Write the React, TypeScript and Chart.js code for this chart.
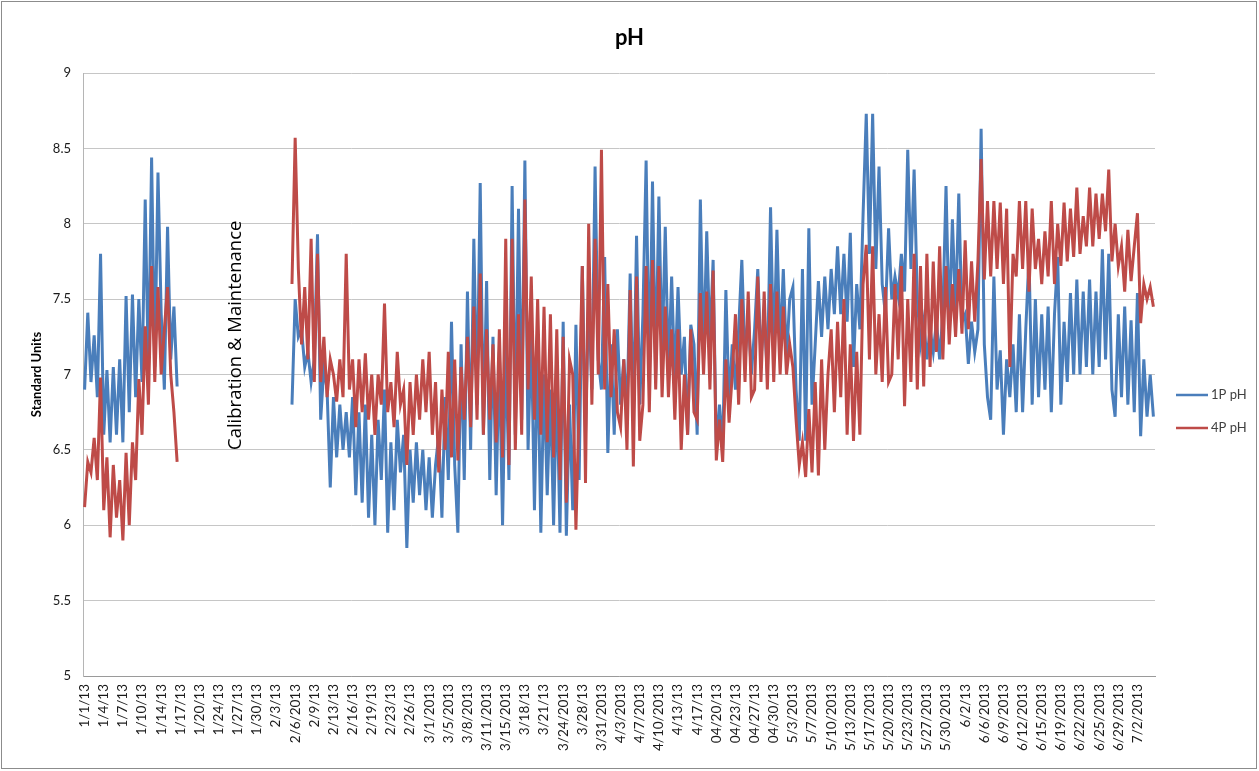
import React, { useEffect, useRef } from "react";
import { Chart, registerables } from "chart.js";

Chart.register(...registerables);

// Tick labels shown on the category axis (one every POINTS_PER_TICK readings)
const tickLabels: string[] = [
  "1/1/13", "1/4/13", "1/7/13", "1/10/13", "1/14/13", "1/17/13", "1/20/13", "1/24/13",
  "1/27/13", "1/30/13", "2/3/13", "2/6/2013", "2/9/13", "2/13/13", "2/16/13", "2/19/13",
  "2/23/13", "2/26/13", "3/1/2013", "3/5/2013", "3/8/2013", "3/11/2013", "3/15/2013", "3/18/13",
  "3/21/13", "3/24/2013", "3/28/13", "3/31/2013", "4/3/2013", "4/7/2013", "4/10/2013", "4/13/13",
  "4/17/13", "04/20/13", "04/23/13", "04/27/13", "04/30/13", "5/3/2013", "5/7/2013", "5/10/2013",
  "5/13/2013", "5/17/2013", "5/20/2013", "5/23/2013", "5/27/2013", "5/30/2013", "6/2/13", "6/6/2013",
  "6/9/2013", "6/12/2013", "6/15/2013", "6/19/2013", "6/22/2013", "6/25/2013", "6/29/2013", "7/2/2013",
];

const POINTS_PER_TICK = 6;

// 1P pH readings (one row per tick interval)
const ph1P: (number | null)[] = [
  6.9, 7.41, 6.95, 7.26, 6.85, 7.8,
  6.6, 7.03, 6.55, 7.05, 6.6, 7.1,
  6.55, 7.52, 6.75, 7.53, 6.85, 7.5,
  6.95, 8.16, 7.0, 8.44, 7.05, 8.34,
  7.41, 6.9, 7.98, 7.1, 7.45, 6.92,
  null, null, null, null, null, null,
  null, null, null, null, null, null,
  null, null, null, null, null, null,
  null, null, null, null, null, null,
  null, null, null, null, null, null,
  null, null, null, null, null, 6.8,
  7.5, 7.25, 7.3, 7.05, 7.15, 6.95,
  7.1, 7.93, 6.7, 7.05, 6.9, 6.25,
  6.85, 6.45, 6.8, 6.5, 6.75, 6.45,
  6.85, 6.2, 6.75, 6.15, 6.8, 6.05,
  6.6, 6.0, 6.7, 6.3, 6.9, 5.95,
  6.55, 6.1, 6.7, 6.35, 6.6, 5.85,
  6.5, 6.15, 6.55, 6.2, 6.5, 6.1,
  6.45, 6.05, 6.4, 6.6, 6.05, 6.85,
  6.3, 7.35, 6.4, 5.95, 7.2, 6.3,
  7.55, 6.5, 7.9, 6.8, 8.27, 6.6,
  7.62, 6.3, 7.25, 6.2, 7.15, 6.0,
  7.2, 6.3, 8.25, 6.6, 8.1, 6.7,
  8.42, 6.5, 7.3, 6.1, 7.2, 5.95,
  7.0, 6.2, 6.9, 6.0, 6.95, 5.95,
  7.35, 5.93, 6.8, 6.1, 7.33, 6.3,
  7.72, 6.6, 7.5, 6.9, 8.38, 7.1,
  6.9, 7.78, 6.48, 7.2, 6.6, 7.3,
  6.8, 7.1, 6.75, 7.67, 6.7, 7.92,
  6.8, 7.4, 8.42, 6.95, 8.28, 7.0,
  8.18, 7.1, 7.98, 7.0, 7.65, 6.95,
  7.58, 7.0, 7.25, 6.6, 7.33, 7.2,
  6.6, 8.16, 7.1, 7.95, 7.2, 7.76,
  6.5, 6.8, 6.5, 7.56, 6.8, 7.2,
  6.9, 7.3, 7.76, 7.1, 7.4, 7.0,
  7.3, 7.7, 7.1, 7.4, 7.0, 8.11,
  7.1, 7.96, 7.15, 7.7, 7.1, 7.5,
  7.58, 6.9, 6.56, 7.7, 6.56, 7.97,
  6.8, 7.2, 7.62, 7.25, 7.65, 7.3,
  7.7, 7.4, 7.85, 7.4, 7.8, 7.35,
  7.94, 7.05, 7.6, 7.3, 8.06, 8.73,
  7.8, 8.73, 7.7, 8.38, 7.6, 7.4,
  7.97, 7.5, 7.65, 7.52, 7.8, 7.55,
  8.49, 7.7, 8.36, 7.5, 7.2, 7.35,
  7.1, 7.3, 7.15, 7.35, 7.1, 7.4,
  8.25, 7.3, 8.03, 7.4, 8.2, 7.35,
  7.4, 7.07, 7.35, 7.15, 7.3, 8.63,
  7.2, 6.85, 6.7, 7.65, 6.9, 7.16,
  6.6, 7.1, 6.85, 7.2, 6.75, 7.4,
  6.75, 7.3, 7.78, 6.8, 7.5, 6.85,
  7.4, 6.9, 7.45, 6.75, 7.4, 7.78,
  6.8, 7.35, 6.95, 7.54, 7.0, 7.63,
  7.0, 7.55, 7.05, 7.63, 7.0, 7.55,
  7.05, 7.83, 7.1, 7.8, 6.9, 6.72,
  7.4, 6.85, 7.45, 6.8, 7.36, 6.75,
  7.54, 6.59, 7.1, 6.72, 7.0, 6.72,
];

// 4P pH readings (one row per tick interval)
const ph4P: (number | null)[] = [
  6.12, 6.42, 6.35, 6.58, 6.3, 6.98,
  6.1, 6.45, 5.92, 6.4, 6.05, 6.3,
  5.9, 6.48, 6.0, 6.55, 6.3, 6.97,
  6.6, 7.32, 6.8, 7.72, 6.95, 7.58,
  7.0, 7.3, 7.58, 7.0, 6.75, 6.42,
  null, null, null, null, null, null,
  null, null, null, null, null, null,
  null, null, null, null, null, null,
  null, null, null, null, null, null,
  null, null, null, null, null, null,
  null, null, null, null, null, 7.6,
  8.57, 7.7, 7.2, 7.58, 7.1, 7.9,
  6.95, 7.8, 6.95, 7.25, 6.85, 7.1,
  7.0, 6.82, 7.1, 6.85, 7.8, 6.9,
  7.1, 6.65, 7.1, 6.75, 7.14, 6.7,
  7.0, 6.6, 7.0, 6.8, 7.47, 6.75,
  6.95, 6.65, 7.15, 6.8, 6.9, 6.4,
  6.95, 6.6, 7.0, 6.7, 7.1, 6.75,
  7.15, 6.6, 6.95, 6.35, 6.9, 6.5,
  7.15, 6.45, 7.1, 6.43, 7.05, 6.7,
  7.25, 6.65, 7.45, 6.7, 7.67, 6.6,
  7.3, 6.7, 7.2, 6.55, 7.3, 6.45,
  7.9, 6.4, 7.9, 6.5, 7.4, 6.6,
  8.16, 6.9, 7.65, 6.7, 7.5, 6.6,
  7.45, 6.55, 7.4, 6.45, 7.3, 6.3,
  7.25, 6.15, 7.1, 7.0, 5.97, 6.8,
  7.72, 6.28, 8.0, 6.8, 7.9, 7.0,
  8.49, 6.9, 7.6, 6.85, 7.3, 6.75,
  6.65, 7.1, 6.5, 7.56, 6.39, 7.65,
  6.56, 6.8, 7.72, 6.75, 7.76, 6.9,
  7.72, 6.85, 7.45, 6.85, 7.3, 6.7,
  7.3, 6.5, 7.0, 6.6, 7.3, 6.75,
  6.7, 7.54, 7.0, 7.55, 6.9, 7.69,
  6.43, 6.7, 6.42, 7.1, 6.68, 7.0,
  7.4, 6.8, 7.5, 6.95, 7.55, 6.85,
  6.9, 7.65, 6.95, 7.55, 6.9, 7.6,
  6.95, 7.55, 7.0, 7.45, 7.0, 7.2,
  7.05, 6.7, 6.4, 6.55, 6.32, 6.77,
  6.35, 6.95, 6.33, 7.1, 6.5, 7.0,
  7.3, 6.75, 7.35, 6.85, 7.5, 6.6,
  7.2, 6.56, 7.15, 6.6, 7.6, 7.86,
  7.1, 7.85, 7.0, 7.4, 6.95, 7.58,
  6.95, 7.0, 7.6, 7.1, 7.72, 6.79,
  7.5, 6.95, 7.8, 6.9, 7.72, 6.92,
  7.8, 7.05, 7.75, 7.15, 7.85, 7.1,
  7.72, 7.2, 7.6, 7.25, 7.7, 7.27,
  7.89, 7.3, 7.75, 7.35, 7.75, 8.43,
  7.63, 8.15, 7.65, 8.15, 7.7, 8.14,
  7.6, 8.1, 7.05, 7.8, 7.65, 8.15,
  7.7, 8.15, 7.55, 8.1, 7.7, 7.9,
  7.6, 7.95, 7.65, 8.15, 7.6, 8.0,
  7.72, 8.14, 7.75, 8.1, 7.78, 8.24,
  7.8, 8.05, 7.85, 8.24, 7.85, 8.2,
  7.9, 8.2, 7.95, 8.36, 7.75, 8.0,
  7.72, 7.85, 7.55, 7.96, 7.62, 7.85,
  8.07, 7.34, 7.6, 7.5, 7.58, 7.45,
];

const seriesNames = ["1P pH", "4P pH"];
const seriesColors = ["#4A7EBB", "#BE4B48"];
const noteText = "Calibration & Maintenance";

const categories: string[] = ph1P.map((_, i) =>
  i % POINTS_PER_TICK === 0 ? tickLabels[i / POINTS_PER_TICK] ?? "" : ""
);

export default function App() {
  const canvasRef = useRef<HTMLCanvasElement>(null);

  useEffect(() => {
    document.body.style.margin = "0";
    const canvas = canvasRef.current;
    if (!canvas) return;

    const overlay = {
      id: "overlay",
      afterDraw(chart: any) {
        const { ctx, chartArea, scales } = chart;
        ctx.save();
        // chart frame
        ctx.strokeStyle = "#8c8c8c";
        ctx.lineWidth = 1;
        ctx.strokeRect(1.5, 1.5, 1255, 767);

        // vertical note in the data gap
        const nx = scales.x.getPixelForValue(47.5);
        const ny = scales.y.getPixelForValue(7.26);
        ctx.translate(nx, ny);
        ctx.rotate(-Math.PI / 2);
        ctx.fillStyle = "#000";
        ctx.font = "18.5px 'Open Sans'";
        ctx.textAlign = "center";
        ctx.textBaseline = "middle";
        ctx.fillText(noteText, 0, 0);
        ctx.setTransform(1, 0, 0, 1, 0, 0);

        // legend
        const lx0 = chartArea.right + 21;
        const lx1 = chartArea.right + 53;
        seriesNames.forEach((name, k) => {
          const ly = chartArea.top + 322 + k * 33;
          ctx.strokeStyle = seriesColors[k];
          ctx.lineWidth = 2.5;
          ctx.beginPath();
          ctx.moveTo(lx0, ly);
          ctx.lineTo(lx1, ly);
          ctx.stroke();
          ctx.fillStyle = "#404040";
          ctx.font = "13px Lato";
          ctx.textAlign = "left";
          ctx.textBaseline = "middle";
          ctx.fillText(name, lx1 + 3, ly);
        });
        ctx.restore();
      },
    };

    const chart = new Chart(canvas, {
      type: "line",
      data: {
        labels: categories,
        datasets: [
          {
            label: seriesNames[0],
            data: ph1P,
            borderColor: seriesColors[0],
            backgroundColor: seriesColors[0],
            order: 1,
            yAxisID: "y",
          },
          {
            label: seriesNames[1],
            data: ph4P,
            borderColor: seriesColors[1],
            backgroundColor: seriesColors[1],
            order: 0,
            yAxisID: "y",
          },
        ],
      },
      options: {
        responsive: false,
        animation: false,
        layout: { padding: 0 },
        elements: {
          point: { radius: 0, hoverRadius: 0 },
          line: { borderWidth: 3, tension: 0 },
        },
        plugins: {
          legend: { display: false },
          tooltip: { enabled: false },
          title: {
            display: true,
            text: "pH",
            color: "#000",
            font: { family: "Lato", size: 22, weight: "bold" },
            padding: { top: 25, bottom: 21.6 },
          },
        },
        scales: {
          x: {
            type: "category",
            offset: true,
            grid: { display: false, drawTicks: false },
            border: { display: true, color: "#9a9a9a", width: 1 },
            ticks: {
              autoSkip: false,
              minRotation: 90,
              maxRotation: 90,
              padding: 8,
              color: "#1a1a1a",
              font: { family: "Lato", size: 13.5 },
            },
            afterFit: (scale: any) => {
              scale.height = 95;
            },
          },
          y: {
            position: "left",
            min: 5,
            max: 9,
            ticks: {
              stepSize: 0.5,
              padding: 12,
              color: "#1a1a1a",
              font: { family: "Lato", size: 13 },
              callback: (v: any) => String(Number(v)),
            },
            grid: { color: "#c6c6c6", drawTicks: false },
            border: { display: true, color: "#b5b5b5" },
            title: {
              display: true,
              text: "Standard Units",
              color: "#000",
              font: { family: "Lato", size: 13, weight: "bold" },
              padding: { top: 29.2, bottom: 0 },
            },
            afterFit: (scale: any) => {
              scale.width = 83;
            },
          },
          // empty right-hand band that holds the legend area
          legendSpace: {
            type: "linear",
            position: "right",
            display: true,
            grid: { display: false, drawTicks: false },
            border: { display: false },
            ticks: { display: false },
            afterFit: (scale: any) => {
              scale.width = 104;
            },
          },
        },
      },
      plugins: [overlay],
    } as any);

    return () => chart.destroy();
  }, []);

  return (
    <div style={{ position: "fixed", left: 0, top: 0, width: 1259, height: 771, background: "#fff" }}>
      <canvas ref={canvasRef} width={1259} height={771} style={{ display: "block" }} />
    </div>
  );
}
